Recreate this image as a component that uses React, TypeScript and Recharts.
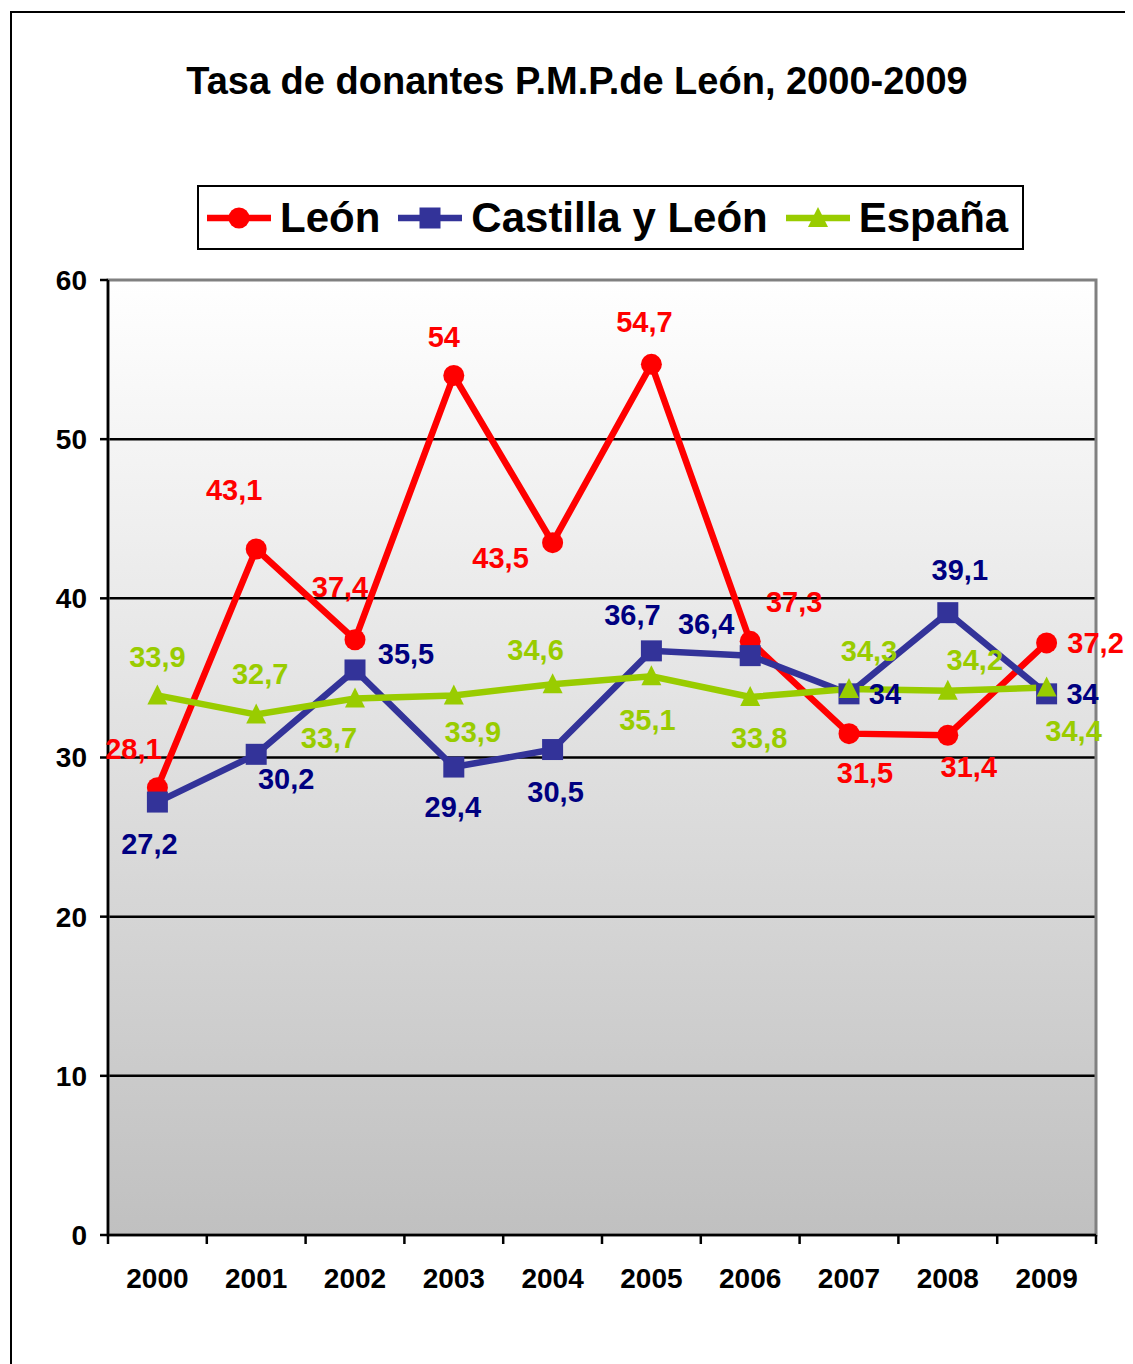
import { LineChart, Line, XAxis, YAxis, CartesianGrid, LabelList, ReferenceArea } from 'recharts'

// --- Data ---

const years = ['2000', '2001', '2002', '2003', '2004', '2005', '2006', '2007', '2008', '2009']
const leon = [28.1, 43.1, 37.4, 54, 43.5, 54.7, 37.3, 31.5, 31.4, 37.2]
const castillaLeon = [27.2, 30.2, 35.5, 29.4, 30.5, 36.7, 36.4, 34, 39.1, 34]
const espana = [33.9, 32.7, 33.7, 33.9, 34.6, 35.1, 33.8, 34.3, 34.2, 34.4]
const yTicks = [0, 10, 20, 30, 40, 50, 60]
const gridValues = [10, 20, 30, 40, 50]

// label offsets (dx, dy) from each point, as placed by hand in the original
const leonLabelPos: [number, number][] = [
  [-24, -39], [-22, -59], [-15, -53], [-10, -39], [-52, 15],
  [-7, -42], [44, -39], [16, 39], [21, 32], [49, 0],
]
const castillaLabelPos: [number, number][] = [
  [-8, 42], [30, 25], [51, -16], [-1, 40], [3, 42],
  [-19, -36], [-44, -32], [36, 0], [12, -43], [36, 0],
]
const espanaLabelPos: [number, number][] = [
  [0, -38], [4, -41], [-26, 39], [19, 37], [-17, -34],
  [-4, 44], [9, 41], [20, -38], [27, -31], [27, 44],
]

const chartData = years.map((year, i) => ({
  year,
  leon: leon[i],
  castilla: castillaLeon[i],
  espana: espana[i],
}))

// --- Styles ---

const FONT = "Arial, 'Liberation Sans', Helvetica, sans-serif"
const RED = '#ff0000'
const BLUE = '#333399'
const NAVY = '#000080'
const GREEN = '#99cc00'

const CHART_W = 1123
const CHART_H = 1353
const PLOT_LEFT = 98
const PLOT_RIGHT = 1086
const PLOT_BOTTOM = 1224
const BAND = (PLOT_RIGHT - PLOT_LEFT) / years.length

const fmt = (v: number) => String(v).replace('.', ',')

// --- Marks ---

const SquareDot = (props: any) => {
  const { cx, cy } = props
  if (cx == null || cy == null) return null
  return <rect x={cx - 10.5} y={cy - 10.5} width={21} height={21} fill={BLUE} />
}

const TriangleDot = (props: any) => {
  const { cx, cy } = props
  if (cx == null || cy == null) return null
  return (
    <polygon
      points={`${cx},${cy - 11} ${cx + 10},${cy + 9} ${cx - 10},${cy + 9}`}
      fill={GREEN}
    />
  )
}

const makeLabel = (color: string, pos: [number, number][]) => (props: any) => {
  const { x, y, value, index } = props
  if (x == null || y == null) return null
  const [dx, dy] = pos[index] ?? [0, -30]
  return (
    <text
      x={x + dx}
      y={y + dy + 10}
      textAnchor="middle"
      fill={color}
      fontFamily={FONT}
      fontWeight="bold"
      fontSize={29}
    >
      {fmt(value)}
    </text>
  )
}

const XTick = (props: any) => {
  const { x, payload, index } = props
  const left = x - BAND / 2
  return (
    <g>
      <line x1={left} x2={left} y1={PLOT_BOTTOM} y2={PLOT_BOTTOM + 9} stroke="#000" strokeWidth={2.5} />
      {index === years.length - 1 && (
        <line
          x1={x + BAND / 2}
          x2={x + BAND / 2}
          y1={PLOT_BOTTOM}
          y2={PLOT_BOTTOM + 9}
          stroke="#000"
          strokeWidth={2.5}
        />
      )}
      <text
        x={x}
        y={PLOT_BOTTOM + 53}
        textAnchor="middle"
        fill="#000"
        fontFamily={FONT}
        fontWeight="bold"
        fontSize={28}
      >
        {payload.value}
      </text>
    </g>
  )
}

// --- Legend ---

const legendItems = [
  { label: 'León', color: RED, shape: 'circle' },
  { label: 'Castilla y León', color: BLUE, shape: 'square' },
  { label: 'España', color: GREEN, shape: 'triangle' },
]

const LegendIcon = ({ color, shape }: { color: string; shape: string }) => (
  <svg width={64} height={30} style={{ display: 'block' }}>
    <line x1={0} x2={64} y1={15} y2={15} stroke={color} strokeWidth={6.5} />
    {shape === 'circle' && <circle cx={32} cy={15} r={10.5} fill={color} />}
    {shape === 'square' && <rect x={21.5} y={4.5} width={21} height={21} fill={color} />}
    {shape === 'triangle' && <polygon points="32,4 42,24 22,24" fill={color} />}
  </svg>
)

const ChartLegend = () => (
  <div
    style={{
      position: 'absolute',
      left: 189,
      top: 177,
      width: 827,
      height: 65,
      boxSizing: 'border-box',
      border: '2px solid #000',
      background: '#fff',
      display: 'flex',
      alignItems: 'center',
      paddingLeft: 8,
      fontFamily: FONT,
      fontWeight: 'bold',
      fontSize: 42,
    }}
  >
    {legendItems.map((item, i) => (
      <div key={item.label} style={{ display: 'flex', alignItems: 'center', marginLeft: i === 0 ? 0 : 18 }}>
        <LegendIcon color={item.color} shape={item.shape} />
        <span style={{ marginLeft: 9, lineHeight: 1 }}>{item.label}</span>
      </div>
    ))}
  </div>
)

// --- Component ---

export default function App() {
  return (
    <div style={{ position: 'relative', width: 1125, height: 1356, overflow: 'hidden' }}>
      <div
        style={{
          position: 'absolute',
          left: 2,
          top: 3,
          width: 1200,
          height: 1400,
          border: '2px solid #000',
          background: '#fff',
        }}
      />
      <div
        style={{
          position: 'absolute',
          left: 2,
          top: 54,
          width: 1134,
          textAlign: 'center',
          fontFamily: FONT,
          fontWeight: 'bold',
          fontSize: 38,
          lineHeight: '38px',
        }}
      >
        Tasa de donantes P.M.P.de León, 2000-2009
      </div>
      <ChartLegend />
      <div style={{ position: 'absolute', left: 2, top: 3 }}>
        <LineChart
          width={CHART_W}
          height={CHART_H}
          data={chartData}
          margin={{ top: 269, right: 37, left: 38, bottom: 69 }}
        >
          <defs>
            <linearGradient id="plotBg" x1="0" y1="0" x2="0" y2="1">
              <stop offset="0%" stopColor="#ffffff" />
              <stop offset="100%" stopColor="#c0c0c0" />
            </linearGradient>
          </defs>
          <CartesianGrid
            vertical={false}
            horizontalValues={gridValues}
            stroke="#000"
            strokeWidth={2.5}
            fill="url(#plotBg)"
            fillOpacity={1}
          />
          {/* grey plot-area border (top and right edges show) */}
          <ReferenceArea
            x1={years[0]}
            x2={years[years.length - 1]}
            y1={0}
            y2={60}
            fill="none"
            fillOpacity={0}
            stroke="#808080"
            strokeWidth={3}
            ifOverflow="visible"
          />
          <XAxis
            dataKey="year"
            scale="band"
            height={60}
            axisLine={{ stroke: '#000', strokeWidth: 2.5 }}
            tickLine={false}
            tick={<XTick />}
            interval={0}
          />
          <YAxis
            domain={[0, 60]}
            ticks={yTicks}
            width={60}
            interval={0}
            axisLine={{ stroke: '#000', strokeWidth: 2.5 }}
            tickLine={{ stroke: '#000', strokeWidth: 2.5 }}
            tickSize={8}
            tickMargin={13}
            tick={{ fill: '#000', fontFamily: FONT, fontWeight: 'bold', fontSize: 28 }}
          />
          <Line
            dataKey="leon"
            stroke={RED}
            strokeWidth={6.5}
            dot={{ r: 10.5, fill: RED, stroke: RED, strokeWidth: 0 }}
            activeDot={false}
            isAnimationActive={false}
          >
            <LabelList dataKey="leon" content={makeLabel(RED, leonLabelPos)} />
          </Line>
          <Line
            dataKey="castilla"
            stroke={BLUE}
            strokeWidth={6.5}
            dot={<SquareDot />}
            activeDot={false}
            isAnimationActive={false}
          >
            <LabelList dataKey="castilla" content={makeLabel(NAVY, castillaLabelPos)} />
          </Line>
          <Line
            dataKey="espana"
            stroke={GREEN}
            strokeWidth={6.5}
            dot={<TriangleDot />}
            activeDot={false}
            isAnimationActive={false}
          >
            <LabelList dataKey="espana" content={makeLabel(GREEN, espanaLabelPos)} />
          </Line>
        </LineChart>
      </div>
    </div>
  )
}
